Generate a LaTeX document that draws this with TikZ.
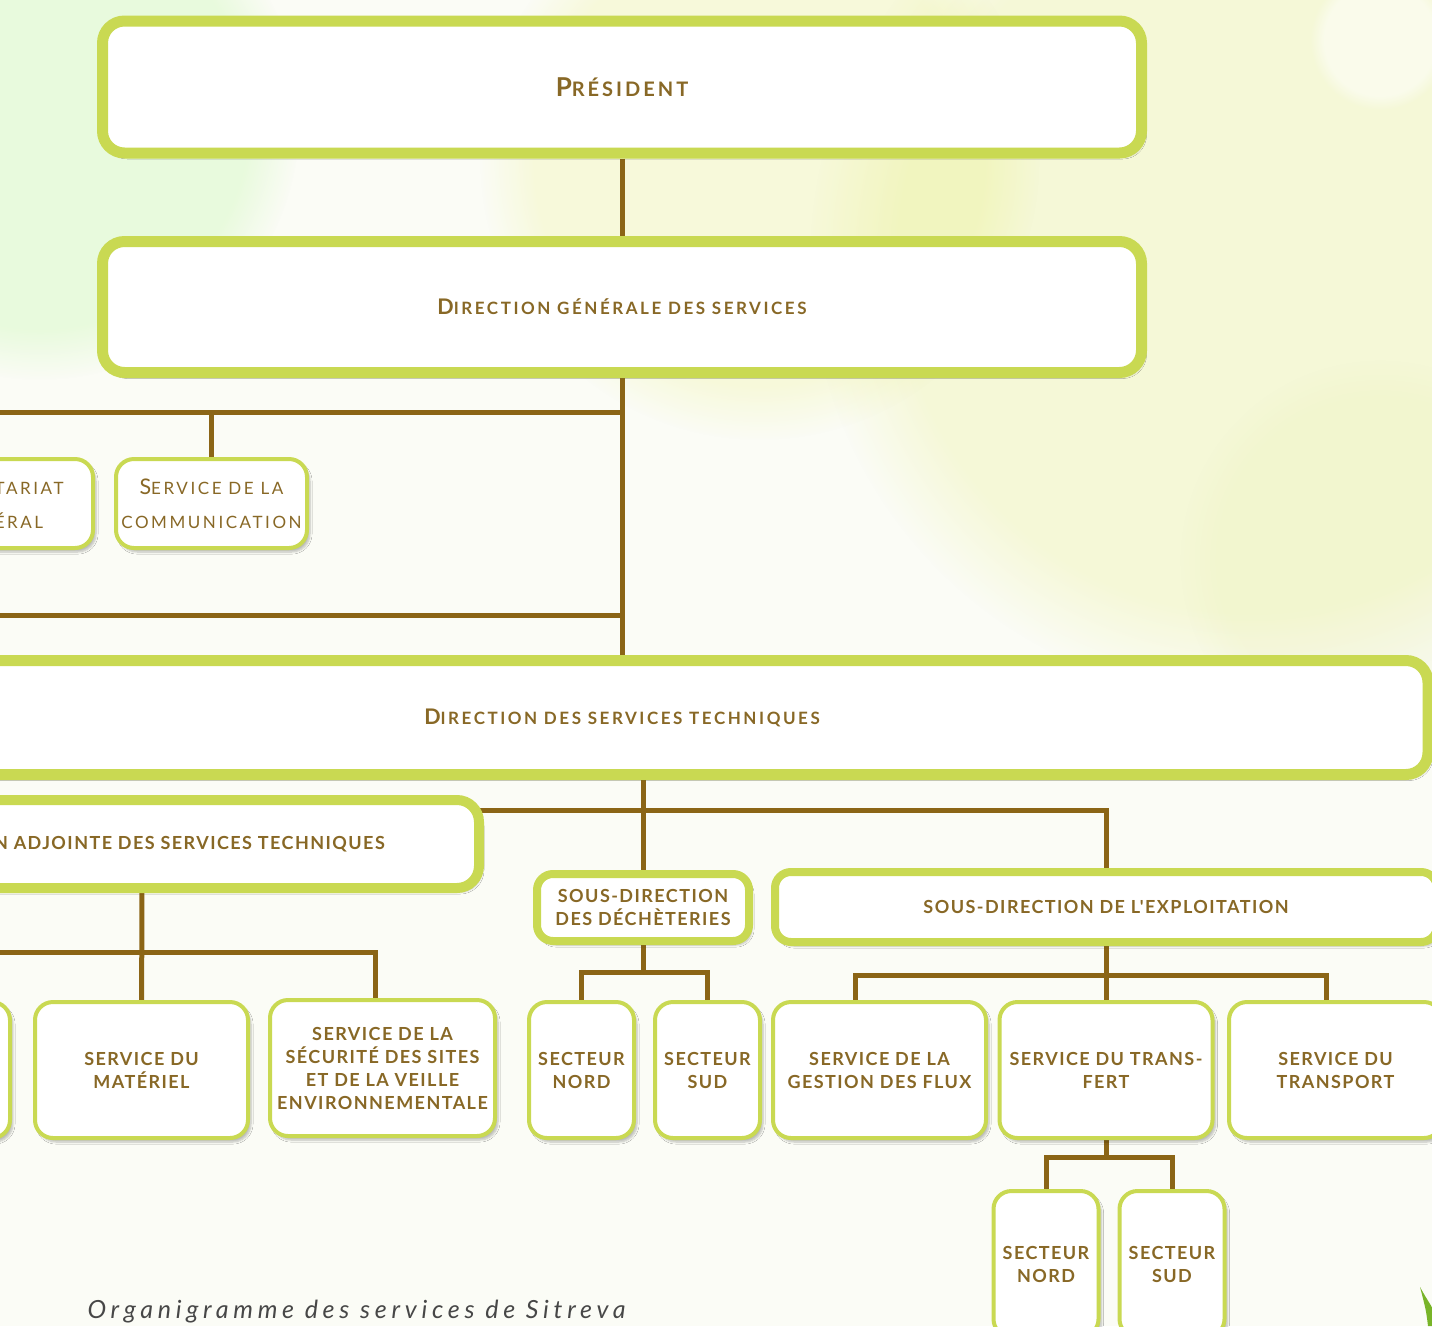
\documentclass[tikz,border=0pt]{standalone}
\usepackage{fontspec}
\setmainfont{Lato}
\newfontfamily\orgfont[LetterSpace=8]{Lato}
\newfontfamily\capfont[LetterSpace=15]{Lato}
\newfontfamily\notefont[LetterSpace=19]{Lato}
\usetikzlibrary{positioning,backgrounds,fadings,shadows.blur}
\definecolor{lime}{RGB}{201,217,82}
\definecolor{bark}{RGB}{139,101,22}
\definecolor{ink}{RGB}{136,104,38}
\definecolor{paper}{RGB}{251,252,246}
\definecolor{leaf}{RGB}{120,180,40}
\newcommand\headcaps[2]{{\fontsize{26}{30}\selectfont #1}{\fontsize{20}{30}\selectfont #2}}
\newcommand\titlecaps[2]{{\fontsize{21.5}{34}\selectfont #1}{\fontsize{17}{34}\selectfont #2}}

\begin{document}
\begin{tikzpicture}[x=1pt, y=-1pt,
  box/.style={draw=lime, fill=white, align=center, text=ink, inner sep=0pt,
    blur shadow={shadow xshift=3pt, shadow yshift=-4pt, shadow opacity=25, shadow blur steps=6}},
  bigbox/.style={box, line width=11pt, rounded corners=22pt, font={\capfont\bfseries}},
  midbox/.style={box, line width=8pt, rounded corners=16pt,
    font={\orgfont\bfseries\fontsize{18}{23}\selectfont}},
  unitbox/.style={box, line width=4pt, rounded corners=18pt, minimum width=213pt,
    minimum height=136pt, font={\orgfont\bfseries\fontsize{18}{23}\selectfont}},
  sectbox/.style={unitbox, minimum width=105pt},
  softbox/.style={unitbox, font={\capfont\fontsize{17}{34}\selectfont}, minimum width=191pt, minimum height=89pt},
  bokeh/.style={path fading=circle with fuzzy edge 20 percent},
  link/.style={draw=bark, line width=5pt}]

  \useasboundingbox (0,0) rectangle (1432,1326);

  \node[bigbox, minimum width=1039pt, minimum height=132pt] (pres) at (622,87) {\headcaps{P}{RÉSIDENT}};
  \node[bigbox, minimum width=1039pt, minimum height=131pt] (dgs) at (622,307) {\titlecaps{D}{IRECTION GÉNÉRALE DES SERVICES}};

  \node[softbox] (secr) at (-2.5,503.5) {\titlecaps{S}{ECRÉTARIAT}\\\titlecaps{}{GÉNÉRAL}};
  \node[softbox] (com) at (211.5,503.5) {\titlecaps{S}{ERVICE DE LA}\\\titlecaps{}{COMMUNICATION}};

  \node[bigbox, minimum width=1612pt, minimum height=114pt] (dst) at (622,717.5) {\titlecaps{D}{IRECTION DES SERVICES TECHNIQUES}};
  \node[bigbox, line width=10pt, minimum width=674pt, minimum height=88pt,
    font={\orgfont\bfseries\fontsize{18}{23}\selectfont}] (adj) at (142,844) {DIRECTION ADJOINTE DES SERVICES TECHNIQUES};
  \node[midbox, minimum width=212pt, minimum height=67pt] (sdd) at (643,907.5) {SOUS-DIRECTION\\DES DÉCHÈTERIES};
  \node[midbox, minimum width=662pt, minimum height=70pt] (sde) at (1106,907) {SOUS-DIRECTION DE L'EXPLOITATION};

  \node[unitbox] (lft) at (-96.5,1070) {};
  \node[unitbox] (mat) at (141.5,1070) {SERVICE DU\\MATÉRIEL};
  \node[unitbox, minimum width=225pt] (secu) at (382.5,1068) {SERVICE DE LA\\SÉCURITÉ DES SITES\\ET DE LA VEILLE\\ENVIRONNEMENTALE};
  \node[sectbox] (sn1) at (581.5,1070) {SECTEUR\\NORD};
  \node[sectbox] (ss1) at (707.5,1070) {SECTEUR\\SUD};
  \node[unitbox] (gf) at (879.5,1070) {SERVICE DE LA\\GESTION DES FLUX};
  \node[unitbox] (tr) at (1106,1070) {SERVICE DU TRANS-\\FERT};
  \node[unitbox] (tp) at (1335.5,1070) {SERVICE DU\\TRANSPORT};
  \node[sectbox, minimum height=146pt] (sn2) at (1046,1264) {SECTEUR\\NORD};
  \node[sectbox, minimum height=146pt] (ss2) at (1172,1264) {SECTEUR\\SUD};

  \node[anchor=west, text=black!72, font={\notefont\itshape\fontsize{25}{30}\selectfont}] (note) at (84,1312) {Organigramme des services de Sitreva};

  \coordinate (hub) at (622,412);
  \coordinate (hubb) at (622,615);
  \coordinate (offl) at (-60,615);
  \coordinate (tech) at (643,810);
  \coordinate (adjhub) at (142,952);
  \coordinate (dechub) at (643,972);
  \coordinate (exphub) at (1106,975);
  \coordinate (trhub) at (1106,1157);

  \begin{scope}[on background layer]
    \fill[paper] (0,0) rectangle (1432,1326);
    \fill[lime!70!yellow, opacity=.16, bokeh] (1250,260) circle (440pt);
    \fill[lime!60!yellow, opacity=.14, bokeh] (760,160) circle (280pt);
    \fill[lime!50!green, opacity=.12, bokeh] (40,120) circle (260pt);
    \fill[lime!60, opacity=.12, bokeh] (1380,560) circle (200pt);
    \fill[white, opacity=.5, bokeh] (1380,40) circle (70pt);
    \fill[leaf] (1420,1287) .. controls (1427,1300) and (1432,1306) .. (1434,1312)
      -- (1434,1326) -- (1428,1326) .. controls (1426,1310) .. cycle;

    \draw[link] (pres) -- (dgs);
    \draw[link] (dgs) -- (dst);
    \draw[link] (hub) -| (com);
    \draw[link] (hub) -| (secr);
    \draw[link] (hubb) -- (offl);
    \draw[link] (sdd) -- (sdd |- dst);
    \draw[link] (tech) -| (sde);
    \draw[link] (tech) -| (adj);
    \draw[link] (adj) -- (mat);
    \draw[link] (adjhub) -| ([xshift=-7pt]secu.north);
    \draw[link] (adjhub) -| (lft);
    \draw[link] (sdd) -- (dechub);
    \draw[link] (dechub) -| (sn1);
    \draw[link] (dechub) -| (ss1);
    \draw[link] (sde) -- (tr);
    \draw[link] (exphub) -| ([xshift=-24pt]gf.north);
    \draw[link] (exphub) -| ([xshift=-9pt]tp.north);
    \draw[link] (tr) -- (trhub);
    \draw[link] (trhub) -| (sn2);
    \draw[link] (trhub) -| (ss2);
  \end{scope}
\end{tikzpicture}
\end{document}
